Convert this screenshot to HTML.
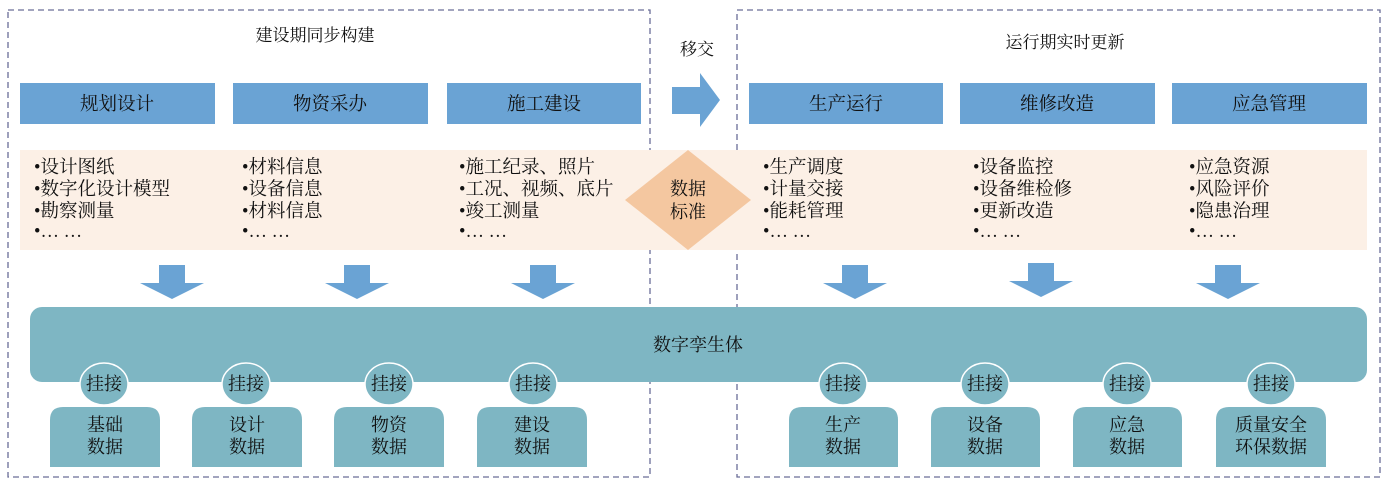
<!DOCTYPE html>
<html><head><meta charset="utf-8"><style>
html,body{margin:0;padding:0;background:#fff;}
svg text{font-family:"Liberation Serif","Noto Serif CJK SC",serif;fill:#111;}
</style></head><body>
<svg width="1388" height="489" viewBox="0 0 1388 489" xmlns="http://www.w3.org/2000/svg">
<rect x="8" y="10" width="642" height="467" fill="none" stroke="#6a6d98" stroke-width="1.3" stroke-dasharray="6,4"/>
<rect x="737" y="10" width="643" height="467" fill="none" stroke="#6a6d98" stroke-width="1.3" stroke-dasharray="6,4"/>
<text x="315" y="41" font-size="17" text-anchor="middle">建设期同步构建</text>
<text x="1065" y="48" font-size="17" text-anchor="middle">运行期实时更新</text>
<text x="697" y="55" font-size="17" text-anchor="middle">移交</text>
<polygon points="672,87 700,87 700,73 720,100 700,127 700,114 672,114" fill="#6aa3d4"/>
<rect x="20" y="150" width="1347" height="100" fill="#fcf0e6"/>
<polygon points="688,150 751,200 688,250 625,200" fill="#f4c7a0"/>
<text x="688" y="195" font-size="18" text-anchor="middle">数据</text>
<text x="688" y="218" font-size="18" text-anchor="middle">标准</text>
<g fill="#6aa3d4">
<rect x="20" y="83" width="195" height="41"/><rect x="233" y="83" width="195" height="41"/><rect x="447" y="83" width="194" height="41"/>
<rect x="749" y="83" width="194" height="41"/><rect x="960" y="83" width="195" height="41"/><rect x="1172" y="83" width="195" height="41"/>
</g>
<g font-size="18.5" text-anchor="middle">
<text x="117" y="110">规划设计</text><text x="330" y="110">物资采办</text><text x="544" y="110">施工建设</text>
<text x="846" y="110">生产运行</text><text x="1057" y="110">维修改造</text><text x="1269" y="110">应急管理</text>
</g>
<g font-size="18.5">
<text x="34" y="173">•设计图纸</text><text x="34" y="195">•数字化设计模型</text><text x="34" y="217">•勘察测量</text><text x="34" y="237">•… …</text>
<text x="242" y="173">•材料信息</text><text x="242" y="195">•设备信息</text><text x="242" y="217">•材料信息</text><text x="242" y="237">•… …</text>
<text x="459" y="173">•施工纪录、照片</text><text x="459" y="195">•工况、视频、底片</text><text x="459" y="217">•竣工测量</text><text x="459" y="237">•… …</text>
<text x="763" y="173">•生产调度</text><text x="763" y="195">•计量交接</text><text x="763" y="217">•能耗管理</text><text x="763" y="237">•… …</text>
<text x="973" y="173">•设备监控</text><text x="973" y="195">•设备维检修</text><text x="973" y="217">•更新改造</text><text x="973" y="237">•… …</text>
<text x="1189" y="173">•应急资源</text><text x="1189" y="195">•风险评价</text><text x="1189" y="217">•隐患治理</text><text x="1189" y="237">•… …</text>
</g>
<g fill="#6aa3d4">
<polygon points="159,265 185,265 185,283 204,283 172,299 140,283 159,283"/>
<polygon points="344,265 370,265 370,283 389,283 357,299 325,283 344,283"/>
<polygon points="530,265 556,265 556,283 575,283 543,299 511,283 530,283"/>
<polygon points="842,265 868,265 868,283 887,283 855,299 823,283 842,283"/>
<polygon points="1028,263 1054,263 1054,281 1073,281 1041,297 1009,281 1028,281"/>
<polygon points="1215,265 1241,265 1241,283 1260,283 1228,299 1196,283 1215,283"/>
</g>
<rect x="30" y="307" width="1337" height="75" rx="12" fill="#7eb6c3"/>
<text x="698" y="351" font-size="18" text-anchor="middle">数字孪生体</text>
<g fill="#7eb6c3">
<path d="M50,467 V420 Q50,407 63,407 H147 Q160,407 160,420 V467 Z"/>
<path d="M192,467 V420 Q192,407 205,407 H289 Q302,407 302,420 V467 Z"/>
<path d="M334,467 V420 Q334,407 347,407 H431 Q444,407 444,420 V467 Z"/>
<path d="M477,467 V420 Q477,407 490,407 H574 Q587,407 587,420 V467 Z"/>
<path d="M789,467 V420 Q789,407 802,407 H885 Q898,407 898,420 V467 Z"/>
<path d="M931,467 V420 Q931,407 944,407 H1027 Q1040,407 1040,420 V467 Z"/>
<path d="M1073,467 V420 Q1073,407 1086,407 H1169 Q1182,407 1182,420 V467 Z"/>
<path d="M1216,467 V420 Q1216,407 1229,407 H1313 Q1326,407 1326,420 V467 Z"/>
</g>
<g fill="#7eb6c3" stroke="#fff" stroke-width="1.5">
<ellipse cx="104" cy="384" rx="24" ry="21"/><ellipse cx="246" cy="384" rx="24" ry="21"/>
<ellipse cx="389" cy="384" rx="24" ry="21"/><ellipse cx="533" cy="384" rx="24" ry="21"/>
<ellipse cx="843" cy="384" rx="24" ry="21"/><ellipse cx="985" cy="384" rx="24" ry="21"/>
<ellipse cx="1127" cy="384" rx="24" ry="21"/><ellipse cx="1271" cy="384" rx="24" ry="21"/>
</g>
<g font-size="18" text-anchor="middle">
<text x="104" y="390">挂接</text><text x="246" y="390">挂接</text><text x="389" y="390">挂接</text><text x="533" y="390">挂接</text>
<text x="843" y="390">挂接</text><text x="985" y="390">挂接</text><text x="1127" y="390">挂接</text><text x="1271" y="390">挂接</text>
<text x="105" y="431">基础</text><text x="105" y="453">数据</text>
<text x="247" y="431">设计</text><text x="247" y="453">数据</text>
<text x="389" y="431">物资</text><text x="389" y="453">数据</text>
<text x="532" y="431">建设</text><text x="532" y="453">数据</text>
<text x="843" y="431">生产</text><text x="843" y="453">数据</text>
<text x="985" y="431">设备</text><text x="985" y="453">数据</text>
<text x="1127" y="431">应急</text><text x="1127" y="453">数据</text>
<text x="1271" y="431">质量安全</text><text x="1271" y="453">环保数据</text>
</g>
</svg>
</body></html>
